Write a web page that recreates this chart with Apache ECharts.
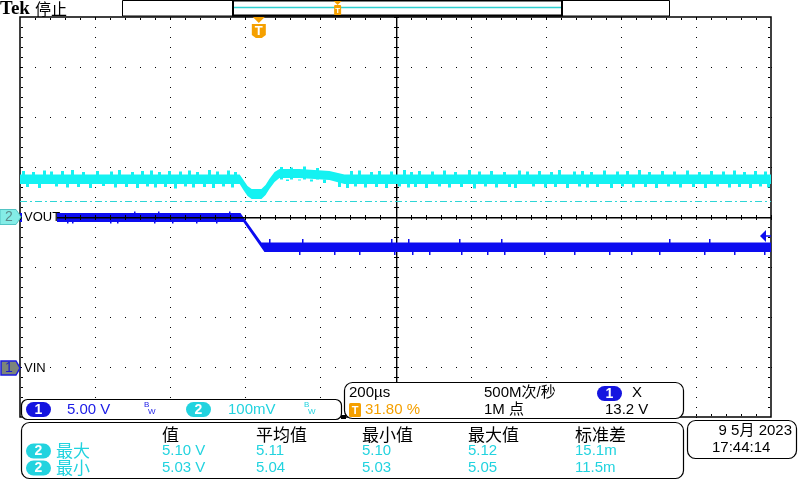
<!DOCTYPE html>
<html>
<head>
<meta charset="utf-8">
<script src="https://cdn.jsdelivr.net/npm/echarts@6/dist/echarts.min.js"></script>
<style>
html, body { margin: 0; padding: 0; background: #fff; }
#c { width: 800px; height: 480px; }
</style>
</head>
<body>
<div id="c"></div>
<script>
// 时间轴: µs, 屏幕中心为 0, 200µs/格
const tMin = -1000, tMax = 1000, tDiv = 200;
// 通道 1 (VIN) 5.00 V/格, 通道 2 (VOUT) 100mV/格
const ch1Scale = 5, ch1Pos = -3.02;
const ch2Scale = 0.1, ch2Pos = 0, ch2Offset = 5.02;
const trigLevel = 13.2;      // V (通道 1)
const trigPct = 31.80;       // %
const refLevel = 5.051;      // 通道 2 虚线

// 通道 2 包络 (V)
const ch2T  = [-1000, -415, -405, -394, -383, -357, -346, -336, -322, -309, -256, -176, -136, 1000];
const ch2Hi = [5.105, 5.105, 5.094, 5.082, 5.076, 5.076, 5.084, 5.096, 5.110, 5.116, 5.116, 5.112, 5.105, 5.105];
const ch2Lo = [5.086, 5.086, 5.074, 5.062, 5.056, 5.056, 5.064, 5.076, 5.090, 5.098, 5.098, 5.094, 5.086, 5.086];
const ch2Mid = 5.095;
// 通道 2 毛刺 [µs, V]
const ch2Up = [[-991, 5.112], [-964, 5.110], [-935, 5.113], [-916, 5.111], [-887, 5.112], [-860, 5.114], [-831, 5.110],
  [-794, 5.112], [-756, 5.111], [-735, 5.114], [-700, 5.110], [-674, 5.112], [-650, 5.113], [-628, 5.110], [-602, 5.112],
  [-573, 5.111], [-549, 5.113], [-527, 5.110], [-495, 5.114], [-474, 5.111], [-445, 5.113], [-426, 5.110],
  [-304, 5.120], [-277, 5.119], [-242, 5.121], [-208, 5.118],
  [-117, 5.112], [-96, 5.113], [-64, 5.110], [-43, 5.112], [-11, 5.111], [24, 5.114], [43, 5.110], [64, 5.112],
  [99, 5.111], [130, 5.113], [160, 5.110], [197, 5.114], [224, 5.111], [256, 5.112], [290, 5.110], [330, 5.113],
  [352, 5.111], [383, 5.112], [415, 5.110], [437, 5.114], [477, 5.111], [498, 5.112], [522, 5.110], [557, 5.113],
  [591, 5.111], [618, 5.112], [650, 5.114], [676, 5.110], [711, 5.112], [743, 5.111], [778, 5.113], [810, 5.110],
  [842, 5.112], [873, 5.111], [903, 5.113], [929, 5.110], [959, 5.112], [985, 5.111]];
const ch2Dn = [[-980, 5.080], [-948, 5.078], [-903, 5.081], [-873, 5.079], [-844, 5.080], [-812, 5.078], [-778, 5.082],
  [-746, 5.079], [-716, 5.080], [-687, 5.078], [-660, 5.081], [-639, 5.079], [-612, 5.080], [-586, 5.077], [-559, 5.081],
  [-538, 5.079], [-509, 5.080], [-485, 5.078], [-458, 5.081], [-434, 5.079],
  [-288, 5.092], [-256, 5.093], [-224, 5.091], [-189, 5.088],
  [-149, 5.080], [-128, 5.078], [-107, 5.081], [-80, 5.079], [-51, 5.080], [-24, 5.078], [11, 5.081], [35, 5.079],
  [53, 5.080], [83, 5.078], [117, 5.081], [144, 5.079], [176, 5.080], [210, 5.077], [240, 5.081], [269, 5.079],
  [304, 5.080], [320, 5.078], [367, 5.081], [399, 5.079], [426, 5.080], [458, 5.078], [490, 5.081], [511, 5.079],
  [538, 5.080], [575, 5.078], [604, 5.081], [634, 5.079], [666, 5.080], [695, 5.078], [727, 5.081], [759, 5.079],
  [794, 5.080], [826, 5.078], [857, 5.081], [889, 5.079], [916, 5.080], [945, 5.078], [972, 5.081], [993, 5.079]];

// 通道 1 包络 (V)
const ch1HiT = [-1000, -413, -357, 1000];
const ch1Hi  = [15.5, 15.5, 12.55, 12.55];
const ch1LoT = [-1000, -405, -349, 1000];
const ch1Lo  = [14.6, 14.6, 11.6, 11.6];
// 通道 1 毛刺 [µs, V]
const ch1Spk = [[-874, 14.45], [-860, 14.45], [-759, 14.45], [-741, 14.45], [-640, 14.45], [-594, 14.45], [-530, 14.45],
  [-477, 14.45], [-695, 15.65], [-631, 15.65], [-442, 15.65],
  [-336, 12.9], [-256, 11.3], [-248, 12.9], [-162, 11.3], [-96, 11.3], [-11, 12.9], [-3, 11.3], [35, 12.9], [45, 11.3],
  [91, 11.3], [170, 12.9], [176, 11.3], [245, 11.3], [282, 12.9], [290, 11.3], [397, 11.3], [477, 11.3], [570, 11.3],
  [628, 11.3], [703, 11.3], [730, 12.9], [823, 11.3], [836, 12.9], [903, 11.3], [983, 11.3]];

// 测量表
const measCols = ['值', '平均值', '最小值', '最大值', '标准差'];
const measRows = ['最大', '最小'];
const measVals = [['5.10 V', '5.11', '5.10', '5.12', '15.1m'],
                  ['5.03 V', '5.04', '5.03', '5.05', '11.5m']];

const CYAN = '#14f2f2', BLUE = '#0c0cf0', TXT_CYAN = '#22d3df', TXT_BLUE = '#1a1ae6', ORANGE = '#f5a000';
const SANS = '"Liberation Sans","Noto Sans CJK SC"';
const CJK = '"Noto Sans CJK SC"';

const ch1Div = v => v / ch1Scale + ch1Pos;
const ch2Div = v => (v - ch2Offset) / ch2Scale + ch2Pos;

function band(hiT, hi, loT, lo, conv, color, z) {
  return {
    type: 'custom', silent: true, z: z, data: [[0, 0]],
    renderItem: (params, api) => {
      const pts = [];
      hiT.forEach((t, i) => pts.push(api.coord([t, conv(hi[i])])));
      for (let i = loT.length - 1; i >= 0; i--) pts.push(api.coord([loT[i], conv(lo[i])]));
      return { type: 'polygon', shape: { points: pts }, style: { fill: color } };
    }
  };
}

function spikes(data, color, w, z) {
  return {
    type: 'custom', silent: true, z: z, data: data,
    encode: { x: 0, y: [1, 2] },
    renderItem: (params, api) => {
      const a = api.coord([api.value(0), api.value(1)]);
      const b = api.coord([api.value(0), api.value(2)]);
      return { type: 'rect', shape: { x: Math.round(a[0] - w / 2), y: Math.min(a[1], b[1]), width: w, height: Math.abs(b[1] - a[1]) }, style: { fill: color } };
    }
  };
}

function graticule(params, api) {
  const ch = [];
  const r = (x, y, w, h) => ch.push({ type: 'rect', shape: { x: Math.round(x), y: Math.round(y), width: w, height: h }, style: { fill: '#000' } });
  // 竖格线点
  for (let t = tMin + tDiv; t < tMax; t += tDiv) {
    if (t === 0) continue;
    for (let k = -20; k <= 20; k++) { const p = api.coord([t, k / 5]); r(p[0], p[1], 1, 1); }
  }
  // 横格线点
  for (let d = -3; d <= 3; d++) {
    if (d === 0) continue;
    for (let k = 0; k <= 50; k++) { const p = api.coord([tMin + k * 40, d]); r(p[0], p[1], 1, 1); }
  }
  // 边框刻度
  for (let k = 1; k < 50; k++) {
    const a = api.coord([tMin + k * 40, 4]), b = api.coord([tMin + k * 40, -4]);
    r(a[0], a[1] + 1, 1, 2); r(b[0], b[1] - 3, 1, 2);
  }
  for (let k = -19; k <= 19; k++) {
    const a = api.coord([tMin, k / 5]), b = api.coord([tMax, k / 5]);
    r(a[0] + 1, a[1], 2, 1); r(b[0] - 3, b[1], 2, 1);
  }
  // 中心竖线
  const top = api.coord([0, 4]), bot = api.coord([0, -4]);
  r(top[0], top[1], 1.4, bot[1] - top[1]);
  for (let k = -20; k <= 20; k++) { const p = api.coord([0, k / 5]); r(p[0] - 2, p[1], 5, 1); }
  return { type: 'group', children: ch };
}

function centerH(params, api) {
  const ch = [];
  const a = api.coord([tMin, 0]), b = api.coord([tMax, 0]);
  ch.push({ type: 'rect', shape: { x: a[0], y: Math.round(a[1]), width: b[0] - a[0], height: 1.4 }, style: { fill: '#000' } });
  for (let k = 0; k <= 50; k++) {
    const p = api.coord([tMin + k * 40, 0]);
    ch.push({ type: 'rect', shape: { x: Math.round(p[0]), y: Math.round(p[1]) - 2, width: 1, height: 5 }, style: { fill: '#000' } });
  }
  return { type: 'group', children: ch };
}

const chart = echarts.init(document.getElementById('c'));
chart.setOption({
  animation: false,
  backgroundColor: '#fff',
  grid: { left: 20, top: 17, width: 751, height: 400, show: true, borderColor: '#000', borderWidth: 1.5, backgroundColor: 'transparent' },
  xAxis: { type: 'value', min: tMin, max: tMax, interval: tDiv, axisLine: { show: false }, axisTick: { show: false }, axisLabel: { show: false }, splitLine: { show: false } },
  yAxis: { type: 'value', min: -4, max: 4, interval: 1, axisLine: { show: false }, axisTick: { show: false }, axisLabel: { show: false }, splitLine: { show: false } },
  series: [
    { type: 'custom', silent: true, z: 1, data: [[0, 0]], renderItem: graticule },
    { type: 'line', silent: true, z: 2, symbol: 'none', data: [[tMin, ch2Div(refLevel)], [tMax, ch2Div(refLevel)]],
      lineStyle: { color: '#2fd6d6', width: 1.2, type: [7, 3, 2, 3] } },
    band(ch2T, ch2Hi, ch2T, ch2Lo, ch2Div, CYAN, 3),
    spikes(ch2Up.concat(ch2Dn).map(p => [p[0], ch2Div(ch2Mid), ch2Div(p[1])]), CYAN, 3, 3),
    band(ch1HiT, ch1Hi, ch1LoT, ch1Lo, ch1Div, BLUE, 4),
    spikes(ch1Spk.map(p => [p[0], ch1Div(p[0] < -410 ? 15.05 : 12.1), ch1Div(p[1])]), BLUE, 1.5, 4),
    { type: 'custom', silent: true, z: 5, data: [[0, 0]], renderItem: centerH }
  ]
});

// 叠加界面元素
const px = (t, d) => chart.convertToPixel({ gridIndex: 0 }, [t, d]);
const T = (x, y, text, fill, font, align) => ({
  type: 'text', x: x, y: y, z: 110,
  style: { text: text, fill: fill, font: font, align: align || 'left', verticalAlign: 'middle', textAlign: align || 'left', textVerticalAlign: 'middle' }
});
const box = (x, y, w, h, rr) => ({ type: 'rect', z: 99, shape: { x: x, y: y, width: w, height: h, r: rr }, style: { fill: '#fff', stroke: '#000', lineWidth: 1.2 } });
const pill = (x, y, color, label) => [
  { type: 'rect', z: 100, shape: { x: x, y: y, width: 25, height: 15, r: 7.5 }, style: { fill: color } },
  T(x + 12.5, y + 8, label, '#fff', 'bold 14px ' + SANS, 'center')
];

const g = [];
// 顶部
g.push(T(0, 9, 'Tek', '#000', 'bold 19px "Liberation Serif"'));
g.push(T(35, 9, '停止', '#000', '16px ' + CJK));
g.push({ type: 'rect', z: 99, shape: { x: 122.5, y: 0.5, width: 547, height: 15.5 }, style: { fill: '#fff', stroke: '#000', lineWidth: 1 } });
g.push({ type: 'rect', z: 100, shape: { x: 233, y: 0.5, width: 329, height: 15 }, style: { fill: 'none', stroke: '#000', lineWidth: 2 } });
g.push({ type: 'line', z: 100, shape: { x1: 234, y1: 7.5, x2: 561, y2: 7.5 }, style: { stroke: '#2fd0d0', lineWidth: 1.5 } });
const recX = 233 + 329 * trigPct / 100;
g.push({ type: 'polygon', z: 101, shape: { points: [[recX - 4, 1], [recX + 4, 1], [recX, 5]] }, style: { fill: ORANGE } });
g.push({ type: 'rect', z: 101, shape: { x: recX - 3.5, y: 5, width: 7, height: 10, r: 1 }, style: { fill: ORANGE } });
g.push(T(recX, 10.5, 'T', '#fff', 'bold 8px ' + SANS, 'center'));

// 触发位置标记
const trigT = tMin + (tMax - tMin) * trigPct / 100;
const tp = px(trigT, 4);
g.push({ type: 'polygon', z: 101, shape: { points: [[tp[0] - 6, tp[1]], [tp[0] + 6, tp[1]], [tp[0], tp[1] + 6]] }, style: { fill: ORANGE } });
g.push({ type: 'polygon', z: 101, shape: { points: [[tp[0] - 7, tp[1] + 7], [tp[0] + 7, tp[1] + 7], [tp[0] + 7, tp[1] + 18], [tp[0] + 3, tp[1] + 21], [tp[0] - 3, tp[1] + 21], [tp[0] - 7, tp[1] + 18]] }, style: { fill: ORANGE } });
g.push(T(tp[0], tp[1] + 14, 'T', '#fff', 'bold 13px ' + SANS, 'center'));

// 通道标记
const c2 = px(tMin, ch2Div(ch2Offset));
const c1 = px(tMin, ch1Div(0));
g.push({ type: 'polygon', z: 101, shape: { points: [[0, c2[1] - 7.5], [16, c2[1] - 7.5], [21, c2[1]], [16, c2[1] + 7.5], [0, c2[1] + 7.5]] }, style: { fill: '#84ece6', stroke: '#52c4c4', lineWidth: 1 } });
g.push(T(9, c2[1] + 0.5, '2', '#5c8c8c', '14px ' + SANS, 'center'));
g.push({ type: 'rect', z: 100, shape: { x: 22, y: c2[1] - 9, width: 35, height: 18 }, style: { fill: '#fff' } });
g.push(T(24, c2[1], 'VOUT', '#000', '13px ' + SANS));
g.push({ type: 'polygon', z: 101, shape: { points: [[1, c1[1] - 7], [16, c1[1] - 7], [20, c1[1]], [16, c1[1] + 7], [1, c1[1] + 7]] }, style: { fill: '#7c857a', stroke: '#1a1ae0', lineWidth: 1.5 } });
g.push(T(9, c1[1] + 0.5, '1', '#1a1ad0', '14px ' + SANS, 'center'));
g.push({ type: 'rect', z: 100, shape: { x: 22, y: c1[1] - 9, width: 26, height: 18 }, style: { fill: '#fff' } });
g.push(T(24, c1[1], 'VIN', '#000', '13px ' + SANS));

// 触发电平箭头
const tl = px(tMax, ch1Div(trigLevel));
g.push({ type: 'polygon', z: 101, shape: { points: [[tl[0] - 11, tl[1]], [tl[0] - 5, tl[1] - 6], [tl[0] - 5, tl[1] + 6]] }, style: { fill: BLUE } });
g.push({ type: 'line', z: 101, shape: { x1: tl[0] - 6, y1: tl[1], x2: tl[0], y2: tl[1] }, style: { stroke: BLUE, lineWidth: 1.5 } });

// 通道设置框
g.push(box(21.5, 399.5, 320, 20, 6));
g.push(...pill(26, 402, '#1515e0', '1'));
g.push(T(67, 410, '5.00 V', TXT_BLUE, '15px ' + SANS));
g.push(T(144, 405, 'B', TXT_BLUE, '8px ' + SANS), T(148, 412, 'W', TXT_BLUE, '8px ' + SANS));
g.push(...pill(186, 402, TXT_CYAN, '2'));
g.push(T(228, 410, '100mV', TXT_CYAN, '15px ' + SANS));
g.push(T(304, 405, 'B', TXT_CYAN, '8px ' + SANS), T(308, 412, 'W', TXT_CYAN, '8px ' + SANS));

// 水平/触发框
g.push({ type: 'rect', z: 98, shape: { x: 341, y: 415, width: 5, height: 4 }, style: { fill: '#000' } });
g.push(box(344.5, 382.5, 339, 36, 8));
g.push(T(349, 393, '200µs', '#000', '15px ' + SANS));
g.push({ type: 'rect', z: 100, shape: { x: 349, y: 403, width: 12, height: 14, r: 1.5 }, style: { fill: ORANGE } });
g.push(T(355, 410.5, 'T', '#fff', 'bold 11px ' + SANS, 'center'));
g.push(T(365, 410, trigPct.toFixed(2) + ' %', ORANGE, '15px ' + SANS));
g.push(T(484, 393, '500M次/秒', '#000', '15px ' + SANS));
g.push(T(484, 410, '1M 点', '#000', '15px ' + SANS));
g.push(...pill(597, 386, '#1515e0', '1'));
g.push(T(632, 393, 'X', '#000', '15px ' + SANS));
g.push(T(605, 410, trigLevel.toFixed(1) + ' V', '#000', '15px ' + SANS));

// 测量框
const colX = [162, 256, 362, 468, 575];
g.push(box(21.5, 422.5, 662, 56, 8));
measCols.forEach((s, i) => g.push(T(colX[i], 435, s, '#000', '17px ' + CJK)));
measRows.forEach((s, r) => {
  const y = 451 + r * 17;
  g.push(...pill(26, y - 7.5, TXT_CYAN, '2'));
  g.push(T(56, y, s, TXT_CYAN, '17px ' + CJK));
  measVals[r].forEach((v, i) => g.push(T(colX[i], y, v, TXT_CYAN, '15px ' + SANS)));
});

// 日期框
g.push(box(687.5, 420.5, 109, 38, 8));
g.push(T(792, 431, '9 5月 2023', '#000', '15px ' + SANS, 'right'));
g.push(T(712, 448, '17:44:14', '#000', '15px ' + SANS));

chart.setOption({ graphic: g });
</script>
</body>
</html>
